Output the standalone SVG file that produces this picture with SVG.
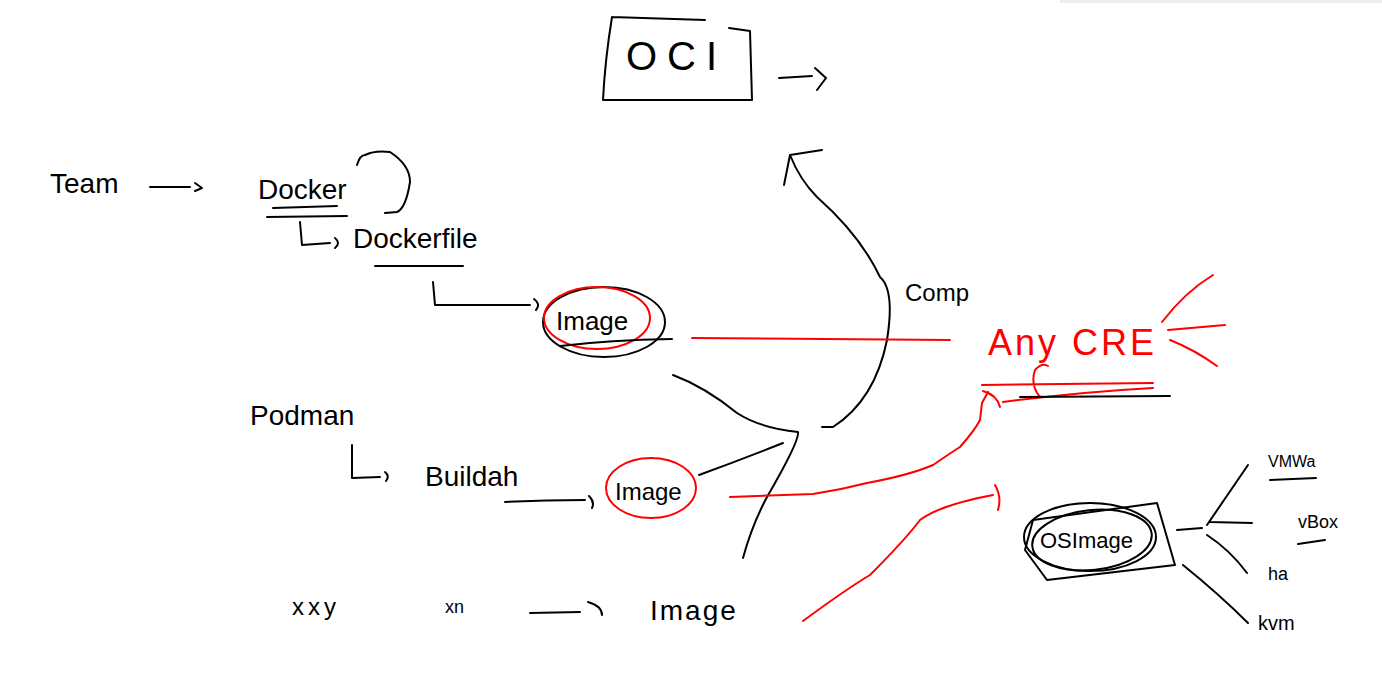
<svg xmlns="http://www.w3.org/2000/svg" width="1382" height="677" viewBox="0 0 1382 677">
<style>
.k{fill:none;stroke:#000;stroke-width:2;stroke-linecap:round;stroke-linejoin:round}
.r{fill:none;stroke:#f00;stroke-width:2;stroke-linecap:round;stroke-linejoin:round}
.t{font-family:"Liberation Sans",Arial,sans-serif;fill:#000}
.tr{font-family:"Liberation Sans",Arial,sans-serif;fill:#f00}
</style>
<rect width="1382" height="677" fill="#fff"/>
<rect x="1060" y="0" width="322" height="3" fill="#eee"/>

<g id="oci">
<path class="k" d="M612,17 L705,20 M729,28 L750,31 L752,100 L603,100 Q605,60 612,17"/>
<text class="t" x="626" y="70" font-size="40" letter-spacing="10">OCI</text>
</g>

<g id="team"><text class="t" x="50" y="193" font-size="28">Team</text></g>

<g id="docker">
<text class="t" x="258" y="199" font-size="28">Docker</text>
<path class="k" d="M273,208 L337,206 M267,217 L347,216"/>
<path class="k" d="M357,165 Q360,155 365,155 Q375,150 390,152 Q410,165 410,182 Q406,208 397,212 L385,213"/>
</g>

<g id="dockerfile">
<text class="t" x="353" y="248" font-size="28">Dockerfile</text>
<path class="k" d="M375,266 L463,266"/>
</g>

<g id="image1">
<ellipse class="k" cx="604" cy="322" rx="61" ry="35"/>
<ellipse class="r" cx="597" cy="318" rx="53" ry="31"/>
<text class="t" x="556" y="330" font-size="26">Image</text>
<path class="k" d="M560,346 Q610,340 672,339"/>
</g>

<g id="podman"><text class="t" x="250" y="425" font-size="28">Podman</text></g>
<g id="buildah"><text class="t" x="425" y="486" font-size="28">Buildah</text></g>

<g id="image2">
<ellipse class="r" cx="651" cy="488" rx="45" ry="30"/>
<text class="t" x="615" y="500" font-size="24">Image</text>
</g>

<g id="xxy"><text class="t" x="292" y="615" font-size="24" letter-spacing="4">xxy</text></g>
<g id="xn"><text class="t" x="445" y="613" font-size="18">xn</text></g>
<g id="image3"><text class="t" x="650" y="620" font-size="28" letter-spacing="2">Image</text></g>

<g id="comp"><text class="t" x="905" y="301" font-size="24">Comp</text></g>

<g id="anycre">
<text class="tr" x="988" y="355" font-size="36" letter-spacing="3">Any  CRE</text>
<path class="r" d="M982,385 L1153,383 M1003,402 Q1080,392 1153,388 M1040,397 Q1030,385 1035,370 Q1042,362 1048,366"/>
<path class="k" d="M1020,397 L1170,396"/>
<path class="r" d="M1162,322 Q1185,292 1213,275 M1168,330 L1225,325 M1170,340 Q1195,350 1217,366"/>
</g>

<g id="osimage">
<path class="k" d="M1033,520 L1157,503 L1175,565 L1047,580 L1025,550 Z"/>
<ellipse class="k" cx="1090" cy="537" rx="66" ry="34"/>
<ellipse class="k" cx="1092" cy="540" rx="60" ry="30" transform="rotate(-6 1092 540)"/>
<text class="t" x="1040" y="548" font-size="22">OSImage</text>
</g>

<g id="vmwa">
<text class="t" x="1268" y="467" font-size="16">VMWa</text>
<path class="k" d="M1270,480 L1316,478"/>
</g>
<g id="vbox">
<text class="t" x="1298" y="528" font-size="18">vBox</text>
<path class="k" d="M1298,544 L1325,540"/>
</g>
<g id="ha"><text class="t" x="1268" y="580" font-size="18">ha</text></g>
<g id="kvm"><text class="t" x="1258" y="630" font-size="20">kvm</text></g>

<g id="connectors">
<path class="k" d="M779,78 L812,76 M815,68 L826,78 L817,90"/>
<path class="k" d="M150,187 L190,187 M195,183 L202,188 L195,191"/>
<path class="k" d="M300,222 L302,245 L330,243 M335,238 Q341,243 335,248"/>
<path class="k" d="M433,282 L435,305 L530,305 M534,299 Q541,304 536,310"/>
<path class="k" d="M352,445 L352,478 L380,477 M385,472 Q390,476 386,481"/>
<path class="k" d="M505,502 Q545,500 585,500 M589,496 Q595,502 592,508"/>
<path class="k" d="M530,613 L580,612 M588,602 Q602,606 602,615"/>
<path class="k" d="M673,375 Q705,387 737,413 Q760,428 798,432 Q800,440 767,497 Q752,525 743,558"/>
<path class="k" d="M699,475 Q740,460 783,443"/>
<path class="k" d="M822,427 L833,427 Q875,400 887,340 Q895,290 880,277 Q860,235 817,197 Q800,180 790,155 M784,185 L790,155 L822,150"/>
<path class="r" d="M692,338 L950,340"/>
<path class="r" d="M730,497 L813,494 Q840,490 867,483 Q910,475 933,465 Q955,450 960,447 Q975,430 980,420 L982,403 L988,392"/>
<path class="r" d="M983,391 Q997,395 1000,407"/>
<path class="r" d="M803,621 Q845,590 870,575 Q905,540 920,520 Q940,505 993,495 M995,485 Q1002,497 998,510"/>
<path class="k" d="M1177,530 L1202,528 M1207,525 L1248,465 M1210,522 L1252,523 M1207,535 Q1230,550 1247,573 M1183,565 Q1220,595 1248,623"/>
</g>
</svg>
